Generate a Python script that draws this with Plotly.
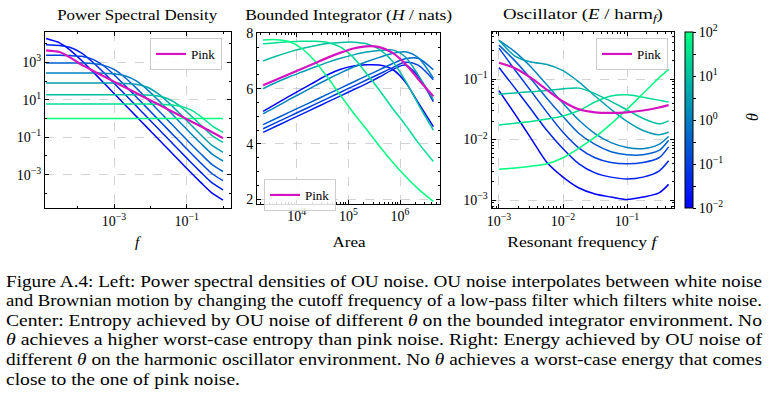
import json
import plotly.graph_objects as go

W, H = 771, 397

# ---------------- data ----------------
theta_log10 = [-2.0, -1.5, -1.0, -0.5, 0.0, 0.5, 1.0, 1.5, 2.0]
theta_colors = ["rgb(0,0,255)", "rgb(0,32,239)", "rgb(0,64,223)", "rgb(0,96,207)",
                "rgb(0,128,191)", "rgb(0,159,175)", "rgb(0,191,159)", "rgb(0,223,143)",
                "rgb(0,255,128)"]
pink_color = "rgb(212,20,192)"

# Panel 1: power spectral density (log10 f, log10 PSD)
psd_log_f = [-4.87, -4.5, -4.2, -3.9, -3.6, -3.3, -3.0, -2.7, -2.4, -2.1, -1.8, -1.5, -1.2, -0.9, -0.6, -0.3, 0.0]
psd_t0 = [4.27, 4.04, 3.64, 3.11, 2.53, 1.94, 1.34, 0.74, 0.14, -0.46, -1.06, -1.66, -2.26, -2.86, -3.44, -3.99, -4.36]
psd_t1 = [3.94, 3.90, 3.79, 3.50, 3.03, 2.48, 1.89, 1.29, 0.69, 0.09, -0.51, -1.11, -1.71, -2.31, -2.89, -3.44, -3.81]
psd_t2 = [3.38, 3.38, 3.36, 3.32, 3.17, 2.83, 2.34, 1.77, 1.18, 0.58, -0.02, -0.62, -1.22, -1.82, -2.40, -2.95, -3.32]
psd_t3 = [2.97, 2.97, 2.97, 2.96, 2.94, 2.85, 2.62, 2.19, 1.65, 1.07, 0.47, -0.13, -0.73, -1.33, -1.91, -2.46, -2.83]
psd_t4 = [2.43, 2.43, 2.43, 2.43, 2.43, 2.42, 2.39, 2.28, 2.02, 1.57, 1.01, 0.43, -0.17, -0.77, -1.35, -1.90, -2.27]
psd_t5 = [1.89, 1.89, 1.89, 1.89, 1.89, 1.89, 1.89, 1.87, 1.83, 1.68, 1.34, 0.85, 0.28, -0.31, -0.89, -1.44, -1.81]
psd_t6 = [1.27, 1.27, 1.27, 1.27, 1.27, 1.27, 1.27, 1.27, 1.27, 1.25, 1.20, 1.04, 0.69, 0.18, -0.37, -0.91, -1.28]
psd_t7 = [0.77, 0.77, 0.77, 0.77, 0.77, 0.77, 0.77, 0.77, 0.77, 0.77, 0.76, 0.74, 0.67, 0.47, 0.09, -0.39, -0.74]
psd_t8 = [0.0, 0.0, 0.0, 0.0, 0.0, 0.0, 0.0, 0.0, 0.0, 0.0, 0.0, 0.0, 0.0, 0.0, 0.0, 0.0, 0.0]
psd_pink = [3.64, 3.55, 3.25, 2.88, 2.57, 2.27, 1.97, 1.67, 1.37, 1.07, 0.77, 0.47, 0.17, -0.13, -0.43, -0.73, -1.05]

# Panel 2: bounded integrator entropy (log10 area, H in nats)
bi_log_area = [3.35, 3.6, 3.85, 4.1, 4.35, 4.6, 4.85, 5.1, 5.35, 5.6, 5.85, 6.1, 6.35, 6.645]
bi_t0 = [5.18, 5.45, 5.72, 5.98, 6.24, 6.50, 6.70, 6.82, 6.86, 6.85, 6.70, 6.25, 5.50, 4.63]
bi_t1 = [4.42, 4.64, 4.86, 5.08, 5.30, 5.52, 5.74, 5.96, 6.18, 6.42, 6.68, 6.85, 6.45, 5.53]
bi_t2 = [4.55, 4.77, 4.99, 5.21, 5.43, 5.65, 5.87, 6.09, 6.31, 6.53, 6.75, 6.95, 6.85, 6.32]
bi_t3 = [4.70, 4.92, 5.14, 5.36, 5.58, 5.80, 6.02, 6.24, 6.46, 6.68, 6.90, 7.08, 7.10, 6.68]
bi_t4 = [5.09, 5.34, 5.60, 5.85, 6.10, 6.34, 6.57, 6.78, 6.97, 7.13, 7.27, 7.33, 7.12, 6.38]
bi_t5 = [6.00, 6.22, 6.42, 6.60, 6.78, 6.95, 7.10, 7.22, 7.32, 7.38, 7.40, 7.15, 6.50, 5.59]
bi_t6 = [7.00, 7.17, 7.32, 7.45, 7.55, 7.63, 7.67, 7.68, 7.62, 7.42, 7.00, 6.30, 5.45, 4.50]
bi_t7 = [7.62, 7.66, 7.69, 7.71, 7.71, 7.67, 7.50, 7.12, 6.55, 5.95, 5.30, 4.70, 4.05, 3.37]
bi_t8 = [7.76, 7.77, 7.70, 7.45, 7.00, 6.40, 5.75, 5.12, 4.53, 3.93, 3.36, 2.84, 2.38, 1.93]
bi_pink = [6.12, 6.32, 6.52, 6.72, 6.92, 7.12, 7.30, 7.45, 7.53, 7.50, 7.30, 6.90, 6.35, 5.72]

# Panel 3: oscillator energy (log10 f, log10 E)
osc_log_f = [-3.0, -2.75, -2.5, -2.25, -2.0, -1.75, -1.5, -1.25, -1.0, -0.75, -0.5, -0.35]
osc_t0 = [-1.19, -1.58, -1.98, -2.38, -2.62, -2.80, -2.90, -2.95, -2.99, -2.95, -2.88, -2.74]
osc_t1 = [-0.81, -1.15, -1.50, -1.85, -2.15, -2.40, -2.55, -2.62, -2.65, -2.62, -2.52, -2.35]
osc_t2 = [-0.49, -0.85, -1.20, -1.55, -1.88, -2.14, -2.30, -2.38, -2.40, -2.38, -2.30, -2.12]
osc_t3 = [-0.44, -0.70, -1.00, -1.32, -1.62, -1.90, -2.08, -2.20, -2.25, -2.25, -2.18, -2.01]
osc_t4 = [-0.36, -0.55, -0.80, -1.10, -1.40, -1.68, -1.90, -2.05, -2.13, -2.15, -2.08, -1.95]
osc_t5 = [-0.36, -0.62, -0.72, -0.76, -0.86, -1.05, -1.28, -1.50, -1.70, -1.85, -1.92, -1.88]
osc_t6 = [-1.25, -1.23, -1.21, -1.19, -1.16, -1.15, -1.24, -1.37, -1.51, -1.65, -1.74, -1.69]
osc_t7 = [-1.76, -1.73, -1.70, -1.66, -1.61, -1.52, -1.38, -1.28, -1.26, -1.30, -1.35, -1.38]
osc_t8 = [-2.49, -2.47, -2.44, -2.40, -2.30, -2.14, -1.96, -1.74, -1.50, -1.24, -0.98, -0.84]
osc_pink = [-0.73, -0.82, -0.98, -1.18, -1.37, -1.50, -1.55, -1.56, -1.55, -1.52, -1.47, -1.43]

caption_lines = [
    "Figure A.4: Left: Power spectral densities of OU noise. OU noise interpolates between white noise",
    "and Brownian motion by changing the cutoff frequency of a low-pass filter which filters white noise.",
    "Center: Entropy achieved by OU noise of different <i>θ</i> on the bounded integrator environment. No",
    "<i>θ</i> achieves a higher worst-case entropy than pink noise. Right: Energy achieved by OU noise of",
    "different <i>θ</i> on the harmonic oscillator environment. No <i>θ</i> achieves a worst-case energy that comes",
    "close to the one of pink noise.",
]

# ---------------- figure ----------------
SERIF = "Liberation Serif"


def fx(p):
    return p / W


def fy(p):
    return 1 - p / H


def pw(vals):
    return [10 ** v for v in vals]


fig = go.Figure()

psd_ou = [psd_t0, psd_t1, psd_t2, psd_t3, psd_t4, psd_t5, psd_t6, psd_t7, psd_t8]
bi_ou = [bi_t0, bi_t1, bi_t2, bi_t3, bi_t4, bi_t5, bi_t6, bi_t7, bi_t8]
osc_ou = [osc_t0, osc_t1, osc_t2, osc_t3, osc_t4, osc_t5, osc_t6, osc_t7, osc_t8]

for k in range(9):
    fig.add_trace(go.Scatter(x=pw(psd_log_f), y=pw(psd_ou[k]), mode="lines",
                             line=dict(color=theta_colors[k], width=1.5, shape="spline", smoothing=0.6),
                             showlegend=False, xaxis="x", yaxis="y", hoverinfo="skip"))
fig.add_trace(go.Scatter(x=pw(psd_log_f), y=pw(psd_pink), mode="lines", name="Pink",
                         line=dict(color=pink_color, width=2.2, shape="spline", smoothing=0.6),
                         legend="legend", xaxis="x", yaxis="y"))

for k in range(9):
    fig.add_trace(go.Scatter(x=pw(bi_log_area), y=bi_ou[k], mode="lines",
                             line=dict(color=theta_colors[k], width=1.5, shape="spline", smoothing=0.8),
                             showlegend=False, xaxis="x2", yaxis="y2", hoverinfo="skip"))
fig.add_trace(go.Scatter(x=pw(bi_log_area), y=bi_pink, mode="lines", name="Pink",
                         line=dict(color=pink_color, width=2.2, shape="spline", smoothing=0.8),
                         legend="legend2", xaxis="x2", yaxis="y2"))

for k in range(9):
    fig.add_trace(go.Scatter(x=pw(osc_log_f), y=pw(osc_ou[k]), mode="lines",
                             line=dict(color=theta_colors[k], width=1.5, shape="spline", smoothing=0.8),
                             showlegend=False, xaxis="x3", yaxis="y3", hoverinfo="skip"))
fig.add_trace(go.Scatter(x=pw(osc_log_f), y=pw(osc_pink), mode="lines", name="Pink",
                         line=dict(color=pink_color, width=2.2, shape="spline", smoothing=0.8),
                         legend="legend3", xaxis="x3", yaxis="y3"))

# colour bar carrier (invisible marker)
fig.add_trace(go.Scatter(x=[10 ** osc_log_f[0]], y=[10 ** osc_t0[0]], mode="markers",
                         marker=dict(size=1, opacity=0, color=[0.0], cmin=theta_log10[0], cmax=theta_log10[-1],
                                     colorscale=[[0, theta_colors[0]], [1, theta_colors[-1]]],
                                     showscale=True,
                                     colorbar=dict(x=fx(685), xanchor="left", xref="paper",
                                                   y=fy(208), yanchor="bottom", yref="paper",
                                                   len=(208 - 32) / H, lenmode="fraction",
                                                   thickness=8, thicknessmode="pixels",
                                                   outlinewidth=1, outlinecolor="black",
                                                   tickmode="array",
                                                   tickvals=[-2, -1.5, -1, -0.5, 0, 0.5, 1, 1.5, 2],
                                                   ticktext=["10<sup>−2</sup>", " ", "10<sup>−1</sup>", " ",
                                                             "10<sup>0</sup>", " ", "10<sup>1</sup>", " ",
                                                             "10<sup>2</sup>"],
                                                   ticks="outside", ticklen=3, tickcolor="black",
                                                   tickfont=dict(family=SERIF, size=14, color="black"),
                                                   xpad=0, ypad=0)),
                         showlegend=False, xaxis="x3", yaxis="y3", hoverinfo="skip"))


def sup(e):
    return "10<sup>" + (("−" + str(-e)) if e < 0 else str(e)) + "</sup>"


def minor_log(lo, hi):
    vals = []
    for d in range(lo, hi + 1):
        for m in range(2, 10):
            vals.append(m * 10 ** d)
    return vals


axis_common = dict(showline=True, linecolor="black", linewidth=1, mirror="ticks",
                   ticks="inside", ticklen=4, tickwidth=1, tickcolor="black",
                   showgrid=True, gridcolor="#c8c8c8", gridwidth=0.8, griddash="dash",
                   zeroline=False, tickfont=dict(family=SERIF, size=14, color="black"),
                   tickmode="array", automargin=False)

fig.update_layout(
    xaxis=dict(axis_common, type="log", domain=[fx(45), fx(231)], range=[-4.90, 0.22],
               tickvals=[1e-3, 1e-1], ticktext=[sup(-3), sup(-1)], anchor="y",
               minor=dict(tickvals=[1e-4, 1e-2, 1e0], ticks="inside", ticklen=2, tickcolor="black", showgrid=False)),
    yaxis=dict(axis_common, type="log", domain=[fy(208), fy(32)], range=[-4.78, 4.62],
               tickvals=[1e3, 1e1, 1e-1, 1e-3], ticktext=[sup(3), sup(1), sup(-1), sup(-3)], anchor="x",
               minor=dict(tickvals=[1e4, 1e2, 1e0, 1e-2, 1e-4], ticks="inside", ticklen=2, tickcolor="black",
                          showgrid=False)),
    xaxis2=dict(axis_common, type="log", domain=[fx(257), fx(440)], range=[3.232, 6.774],
                tickvals=[1e4, 1e5, 1e6], ticktext=[sup(4), sup(5), sup(6)], anchor="y2",
                minor=dict(tickvals=minor_log(3, 6), ticks="inside", ticklen=2, tickcolor="black", showgrid=False)),
    yaxis2=dict(axis_common, type="linear", domain=[fy(203.5), fy(33)], range=[1.85, 8.01],
                tickvals=[2, 4, 6, 8], ticktext=["2", "4", "6", "8"], anchor="x2",
                minor=dict(tickvals=[2.5, 3, 3.5, 4.5, 5, 5.5, 6.5, 7, 7.5], ticks="inside", ticklen=2,
                           tickcolor="black", showgrid=False)),
    xaxis3=dict(axis_common, type="log", domain=[fx(491.5), fx(674)], range=[-3.117, -0.266],
                tickvals=[1e-3, 1e-2, 1e-1], ticktext=[sup(-3), sup(-2), sup(-1)], anchor="y3",
                minor=dict(tickvals=minor_log(-4, -1), ticks="inside", ticklen=2, tickcolor="black",
                           showgrid=False)),
    yaxis3=dict(axis_common, type="log", domain=[fy(208), fy(32)], range=[-3.13, -0.223],
                tickvals=[1e-3, 1e-2, 1e-1], ticktext=[sup(-3), sup(-2), sup(-1)], anchor="x3",
                minor=dict(tickvals=minor_log(-4, -1), ticks="inside", ticklen=2, tickcolor="black",
                           showgrid=False)),
)

legend_common = dict(bgcolor="rgba(255,255,255,0.85)", bordercolor="#cccccc", borderwidth=1,
                     font=dict(family=SERIF, size=13, color="black"), xref="paper", yref="paper",
                     xanchor="left", yanchor="top", itemwidth=30, tracegroupgap=0)
fig.update_layout(
    legend=dict(legend_common, x=fx(150), y=fy(38)),
    legend2=dict(legend_common, x=fx(264), y=fy(179)),
    legend3=dict(legend_common, x=fx(596), y=fy(38)),
)

ann = []
title_font = dict(family=SERIF, size=15.5, color="black")
ann.append(dict(text="Power Spectral Density", x=fx(137), y=fy(15), font=title_font))
ann.append(dict(text="Bounded Integrator (<i>H</i> / nats)", x=fx(348.5), y=fy(15), font=title_font))
ann.append(dict(text="Oscillator (<i>E</i> / harm<sub><i>f</i></sub>)", x=fx(583), y=fy(15), font=title_font))
lab_font = dict(family=SERIF, size=15.5, color="black")
ann.append(dict(text="<i>f</i>", x=fx(138), y=fy(241), font=lab_font))
ann.append(dict(text="Area", x=fx(348.5), y=fy(241), font=lab_font))
ann.append(dict(text="Resonant frequency <i>f</i>", x=fx(583), y=fy(241), font=lab_font))
ann.append(dict(text="<i>θ</i>", x=fx(752), y=fy(117), font=dict(family=SERIF, size=16, color="black"),
                textangle=-90))
cap_font = dict(family=SERIF, size=17, color="black")
cap_y = [281, 300.6, 320.2, 339.8, 359.4, 379]
for t, yy in zip(caption_lines, cap_y):
    ann.append(dict(text=t, x=fx(4), y=fy(yy), xanchor="left", align="left", font=cap_font))

for a in ann:
    a.setdefault("xanchor", "center")
    a["yanchor"] = "middle"
    a["xref"] = "paper"
    a["yref"] = "paper"
    a["showarrow"] = False
fig.update_layout(annotations=ann)

fig.update_layout(width=W, height=H, autosize=False,
                  margin=dict(l=0, r=0, t=0, b=0, pad=0, autoexpand=False),
                  paper_bgcolor="white", plot_bgcolor="white", template="none",
                  font=dict(family=SERIF, color="black"))

# widths (px) that the reference's typeset texts occupy, by annotation index
text_widths = {0: 160, 1: 207, 2: 160, 4: 33, 5: 149, 7: 756, 8: 756, 9: 756, 10: 756, 11: 756, 12: 234}
post = """
document.body.style.margin = '0';
document.body.style.padding = '0';
var gd = document.getElementById('{plot_id}');
var spec = %s;
gd.querySelectorAll('g.annotation').forEach(function (g) {
  var idx = g.getAttribute('data-index');
  if (spec[idx] !== undefined) {
    var t = g.querySelector('text.annotation-text');
    if (t) {
      t.setAttribute('textLength', spec[idx]);
      t.setAttribute('lengthAdjust', 'spacingAndGlyphs');
    }
  }
});
""" % json.dumps({str(k): v for k, v in text_widths.items()})

fig.write_html("out.html", post_script=post, config={"displayModeBar": False, "staticPlot": True})
